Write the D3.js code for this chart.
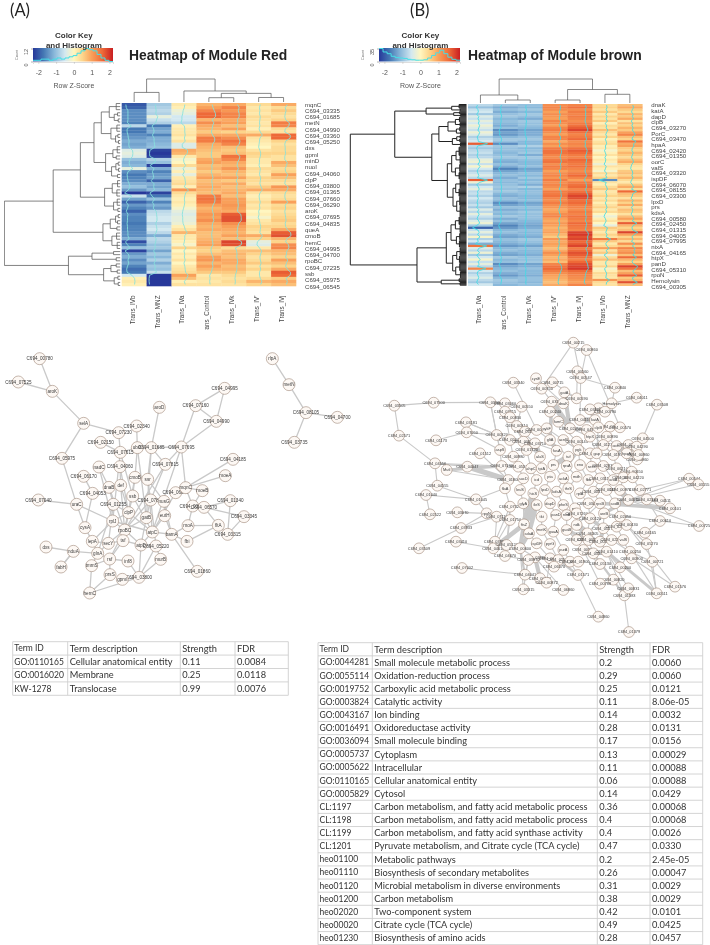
<!DOCTYPE html>
<html lang="en">
<head>
<meta charset="UTF-8">
<title>Module heatmaps</title>
<script src="https://d3js.org/d3.v7.min.js"></script>
<style>
body { margin: 0; background: #fff; }
svg { display: block; filter: blur(0.3px); }
text { font-family: "Liberation Sans", Arial, sans-serif; }
.tbl text, .panel { font-family: Lato, "Open Sans", sans-serif; }
</style>
</head>
<body>
<div id="chart"></div>
<script>
// ---- colour key
var zStops = [-2.3, -1.7, -1.1, -0.5, 0, 0.5, 1, 1.6, 2.2]
var zColors = ['#27389a', '#4578b4', '#8ab8da', '#d3e8f0', '#fff6c0', '#fdd48a', '#f9a05a', '#ee6a38', '#c81e22']
var zTicks = [-2, -1, 0, 1, 2]

// ---- module red
var colsA = ['Trans_IVb', 'Trans_MNZ', 'Trans_IVa', 'Trans_Control', 'Trans_IVk', "Trans_IV'", 'Trans_IVj']
var rowLabelsA = ['mqnC','C694_03335','C694_01685','metN','C694_04990','C694_03360','C694_05250','dxs','gpmI','minD','nuoI','C694_04060','clpP','C694_03800','C694_01365','C694_07660','C694_06290','aroK','C694_07695','C694_04835','queA','cmoB','hemC','C694_04995','C694_04700','rpoBC','C694_07235','ssb','C694_05975','C694_06545']
var heatA_IVb = [-2.0,-1.9,-1.5,-1.5,-1.5,-1.5,-1.6,-0.7,-1.7,-1.7,
  -1.5,-1.4,-1.2,-1.3,-1.2,-0.4,-0.3,-0.4,-1.0,-1.2,
  -1.1,-0.3,-1.5,-1.7,-1.6,-1.5,-1.2,-1.0,-1.4,-2.3,
  -0.6,-1.3,-1.9,-1.4,-1.6,-1.9,-1.5,-1.6,-1.6,-1.7,
  -1.6,-1.6,-1.5,-1.5,-1.2,-2.1,-1.6,-1.0,-2.2,-1.4,
  -1.2,-1.5,-1.3,-1.6,-1.8,-1.7,-0.5,0.1,0.2,0.1]
var heatA_MNZ = [-0.9,-0.8,-0.7,-0.8,-0.3,-0.6,-0.8,-1.7,-1.3,-1.2,
  -1.6,-1.2,-1.2,-1.1,-1.0,-2.2,-2.3,-2.2,-0.8,-1.0,
  -2.2,-1.2,-1.6,-1.4,-1.3,-1.9,-1.2,-1.3,-1.1,-2.2,
  -1.7,-1.0,-1.6,-1.2,-1.4,-0.7,-0.6,-0.5,-0.5,-0.8,
  -0.6,-0.5,-0.7,-1.2,-0.7,-0.8,-1.0,-0.9,-1.3,-0.9,
  -1.1,-0.8,-1.2,-0.9,-1.0,-0.6,-2.3,-2.4,-2.4,-2.3]
var heatA_IVa = [0.2,0.1,-0.2,-0.3,-0.5,-0.5,-0.7,0.1,0.2,0.2,
  0.3,0.1,0.3,-0.4,-0.4,0.9,0.8,0.2,-0.1,0.0,
  0.4,-0.2,0.1,-0.3,0.2,0.3,0.4,0.1,1.1,0.4,
  0.2,0.1,0.2,0.1,-0.1,-0.3,-0.4,-0.3,-0.3,-0.2,
  0.1,0.3,0.8,0.2,0.2,0.1,-0.1,0.5,0.0,0.2,
  0.1,0.3,0.0,0.2,0.3,0.4,1.0,0.7,0.1,0.3]
var heatA_Control = [0.8,1.0,1.3,1.6,1.6,0.8,1.2,0.9,0.8,0.6,
  0.9,1.4,1.4,0.9,0.8,0.7,0.6,0.6,0.9,1.0,
  0.7,0.8,0.6,0.8,1.0,0.7,0.8,0.9,0.8,0.7,
  1.4,1.5,1.4,1.0,0.8,0.9,1.1,1.0,1.2,0.9,
  0.8,0.9,0.7,0.7,0.8,0.9,1.0,0.6,0.5,0.7,
  1.0,1.1,0.8,1.0,0.8,0.6,0.2,0.3,0.2,0.3]
var heatA_IVk = [0.9,1.3,1.1,1.3,1.3,0.9,1.0,0.7,1.0,0.5,
  0.9,1.2,1.5,1.3,0.7,0.6,0.7,1.5,1.3,0.9,
  0.8,1.1,0.8,0.7,1.0,0.6,0.9,0.7,0.8,0.9,
  0.7,1.0,1.0,1.1,1.0,0.9,1.7,1.8,1.8,1.2,
  1.0,0.9,0.8,1.0,0.7,1.9,1.8,0.4,0.7,0.8,
  0.7,0.9,0.9,0.7,0.8,0.6,0.4,0.3,0.4,0.3]
var heatA_IVp = [0.4,0.2,0.3,0.2,0.4,0.3,0.2,0.3,0.1,0.4,
  0.9,0.3,0.2,0.1,0.0,0.3,0.5,0.4,0.2,0.2,
  0.1,0.4,0.3,0.2,0.5,0.4,0.3,0.6,0.9,0.3,
  0.1,0.2,0.4,0.2,0.3,0.0,0.1,-0.1,0.2,0.3,
  0.5,0.4,0.3,0.9,0.5,-0.3,-0.4,0.2,0.7,0.5,
  0.3,0.4,0.6,0.3,0.5,0.2,0.2,0.4,0.8,0.5]
var heatA_IVj = [0.9,0.4,0.6,0.4,0.3,0.5,1.4,1.3,0.4,0.3,
  1.6,1.6,0.5,0.3,0.4,0.4,0.5,0.3,0.3,0.9,
  0.7,0.4,0.5,1.0,0.7,0.4,0.3,1.1,0.9,0.4,
  0.3,0.4,1.0,0.4,0.5,0.3,0.4,0.5,0.6,0.4,
  0.5,0.9,1.7,1.8,0.8,0.5,1.2,1.3,0.8,0.7,
  0.5,1.0,0.7,0.5,0.9,1.7,1.6,0.6,0.9,0.7]
// dendrograms: [height, left, right], a fan of n leaves is [height, n]
var rowTreeA = [349,
  [202,
    [120,
      [79,
        [57,[33,[12,3],[18,[8,2],[6,2]]],[28,[10,3],[14,[7,2],[5,2]]]],
        [44,[22,[9,3],[12,2]],[26,[13,[6,2],[5,2]],[8,2]]]],
      [47,[24,[8,3],[10,3]],[20,[9,3],[7,2]]]],
    [52,[30,[14,[6,2],[8,2]],[10,2]],[25,[11,3],[9,3]]]],
  [156,[85,[20,2],[12,2]],[50,[28,[12,2],[9,2]],[18,[7,2],[6,2]]]]]
var colTreeA = [24,[10,0,1],[11.5,2,[9,[4.5,3,4],[4.7,5,6]]]]
var histA = [1,1,2,2,1,2,3,2,3,4,5,7,9,11,10,9,6,3,1,0,0]

// ---- module brown
var colsB = ['Trans_IVa', 'Trans_Control', 'Trans_IVk', "Trans_IV'", 'Trans_IVj', 'Trans_IVb', 'Trans_MNZ']
var rowLabelsB = ['dnaK','katA','dapD','clpB','C694_03270','PorC','C694_03470','hpaA','C694_02420','C694_01350','oorC','valS','C694_03320','ispDF','C694_06070','C694_08155','C694_03300','lpxD','prs','kdsA','C694_00580','C694_02450','C694_01315','C694_04005','C694_07995','nixA','C694_04165','htpX','panD','C694_05310','rpoN','Hemolysin','C694_00305']
var heatB_IVa = [-0.7,-1.0,-0.6,-0.5,-0.9,-0.4,-0.6,-0.3,-0.5,-0.2,
  -0.4,-0.6,-0.2,-0.4,-0.8,-0.6,-0.5,1.7,-0.7,-0.9,
  -0.7,-0.6,-0.8,-0.7,-0.3,-0.2,-0.6,-0.1,-0.5,-0.8,
  -0.6,-0.4,-0.7,1.7,-0.2,-0.9,-0.5,-0.3,-0.7,-0.6,
  -0.8,-0.5,-0.7,-0.8,-0.6,-0.9,-0.4,-0.7,-0.3,-0.6,
  -0.8,-0.4,-0.2,-0.9,-1.9,-0.6,-0.3,-0.7,-0.1,-0.8,
  -0.5,-1.2,1.5,-0.4,-0.7,-0.2,-0.9,-0.5,-0.1,-0.6,
  -0.3,-0.7,1.3,-0.5,-0.8,-0.6,-0.4,-0.7,-0.9,-0.5]
var heatB_Control = [-0.9,-1.2,-1.0,-1.2,-1.0,-0.9,-1.1,-1.0,-1.1,-1.2,
  -1.0,-1.5,-1.3,-1.4,-1.1,-0.9,-1.0,-1.5,-0.9,-1.0,
  -1.0,-1.1,-1.0,-0.9,-1.1,-1.2,-1.0,-1.2,-1.6,-1.3,
  -1.1,-1.0,-1.2,-1.0,-1.1,-1.0,-0.9,-1.0,-0.9,-1.1,
  -1.2,-1.0,-1.1,-1.5,-1.3,-1.0,-1.2,-1.0,-1.1,-0.9,
  -1.2,-1.0,-1.3,-1.6,-1.4,-1.1,-1.0,-1.2,-1.3,-1.0,
  -1.1,-1.2,-1.4,-1.1,-1.0,-1.2,-1.3,-0.9,-1.1,-1.0,
  -1.5,-1.3,-1.1,-1.0,-1.2,-1.4,-1.1,-0.9,-1.0,-1.1]
var heatB_IVk = [-1.0,-1.1,-0.9,-1.1,-0.9,-1.0,-1.2,-0.9,-1.0,-1.0,
  -1.1,-1.3,-1.2,-1.2,-1.0,-0.9,-1.1,-1.1,-0.8,-1.1,
  -1.0,-0.9,-1.2,-0.9,-1.0,-1.1,-1.1,-1.0,-1.3,-1.2,
  -1.0,-1.1,-0.9,-1.1,-1.0,-1.2,-0.8,-1.1,-1.0,-1.0,
  -1.1,-1.1,-1.0,-1.3,-1.2,-1.0,-1.1,-0.9,-1.0,-1.0,
  -1.0,-1.1,-1.2,-1.3,-1.2,-1.0,-1.1,-1.1,-1.2,-0.9,
  -1.0,-1.1,-1.3,-1.0,-1.1,-1.1,-1.2,-1.0,-1.0,-0.9,
  -1.3,-1.2,-1.0,-1.1,-1.1,-1.2,-1.0,-1.0,-1.1,-1.0]
var heatB_IVp = [1.2,1.3,1.2,1.0,1.2,1.1,1.0,1.3,1.2,1.0,
  1.3,1.4,1.2,1.0,1.3,1.3,0.9,1.2,1.0,1.4,
  1.5,1.5,1.3,1.2,1.4,1.5,1.2,1.4,1.3,1.0,
  1.2,1.3,1.1,1.4,1.2,1.3,1.2,1.0,1.4,1.4,
  1.5,1.3,1.2,1.4,1.2,1.1,0.9,1.0,1.2,1.3,
  1.0,0.9,1.1,1.0,0.8,0.9,1.0,0.8,0.6,1.1,
  0.9,1.0,0.9,0.7,0.9,1.2,1.0,0.8,0.9,0.7,
  1.3,1.5,1.6,1.4,1.2,1.0,0.9,0.8,0.7,0.9]
var heatB_IVj = [1.3,1.5,1.2,1.4,1.3,1.4,1.3,1.2,1.4,1.5,
  1.7,1.9,1.5,1.3,1.4,1.6,1.2,1.3,1.2,1.5,
  1.7,1.6,1.4,1.3,1.6,1.5,1.4,1.5,1.3,1.2,
  1.4,1.6,1.3,1.0,1.4,1.5,1.6,1.3,1.5,1.7,
  1.9,1.8,1.5,1.6,1.4,1.3,1.2,1.4,1.3,1.5,
  1.4,1.3,1.6,1.5,1.4,1.3,1.9,2.0,1.8,1.9,
  1.6,1.7,1.9,1.4,1.6,1.8,1.7,1.5,1.3,1.6,
  1.8,1.9,2.0,1.6,1.4,1.3,1.2,1.1,1.0,1.3]
var heatB_IVb = [0.4,0.5,0.3,0.6,0.2,0.5,0.3,0.6,0.1,0.4,
  0.3,0.7,0.4,0.2,0.5,0.1,0.3,0.4,0.1,0.2,
  -0.1,0.1,0.3,0.0,0.2,0.1,-0.2,0.3,0.1,-0.1,
  0.4,0.2,0.5,-1.5,0.3,0.1,0.4,0.6,0.2,0.3,
  0.5,0.2,0.4,0.1,0.3,0.5,0.2,0.4,0.0,-0.2,
  0.1,0.3,0.0,-0.3,0.6,0.4,0.2,0.5,0.3,1.4,
  0.6,0.2,0.4,1.0,0.3,0.6,-0.2,0.4,0.7,0.2,
  0.2,0.5,-0.1,0.1,0.4,0.3,0.2,1.1,0.4,0.3]
var heatB_MNZ = [0.7,0.9,0.6,0.4,0.8,0.6,0.9,0.3,0.7,0.5,
  0.8,0.6,1.0,1.3,0.7,0.5,1.5,0.9,1.0,0.6,
  0.5,0.8,0.6,0.4,0.7,0.9,0.5,0.3,0.2,0.6,
  0.7,0.5,0.8,0.4,0.2,0.6,0.9,0.4,1.6,0.7,
  0.6,0.3,0.8,0.5,0.9,0.4,0.7,0.6,0.3,0.7,
  1.0,0.6,1.7,0.8,0.5,0.7,1.9,1.0,0.5,0.8,
  0.4,1.2,0.6,1.3,1.0,1.2,0.7,1.6,0.8,0.5,
  1.0,1.9,1.5,0.7,1.0,1.7,0.6,0.8,1.8,0.7]
var rowTreeB = [345,
  [213,
    [120,[44,[22,5],[19,3]],[38,[21,3],[18,3]]],
    [103,
      [82,[55,[33,[21,6],[19,5]],[30,[20,5],[18,4]]],[42,[29,[19,4],[20,4]],[18,5]]],
      [57,[44,[31,[22,10],[19,9]],[33,[20,9],[22,8]]],[40,[32,[19,10],[22,9]],[29,[20,10],[19,12]]]]]],
  [147,
    [60,[46,[33,[22,9],[19,9]],[30,[20,8],[21,8]]],[41,[29,[19,9],[21,8]],[32,[20,9],[18,8]]]],
    [75,[22,4],[19,4]]]]
var colTreeB = [24,[8,0,[3,1,2]],[13.5,[3,3,4],[8.7,5,6]]]
var histB = [30,22,18,12,9,8,7,5,4,3,3,4,8,14,20,26,18,10,5,3,2]

// ---- networks, node positions are the layout units
var netA_names = ['C694_00780','C694_07525','aroK','C694_04995','C694_07160','aroD','C694_04990','selA','C694_02340','C694_07230',
  'C694_02150','ubiX','C694_01685','C694_07695','C694_07615','C694_05975','C694_04185','nadC','C694_04060','C694_07815',
  'C694_06170','cmoB','ssr','moeA','dnaB','def','C694_04053','ssb','C694_07810','nusG',
  'C694_06047','mqnC','moeB','uraC','C694_01255','C694_03360','C694_06570','C694_01340','C694_03345','clpP',
  'gatB','eutH','rplJ','cysA','rpoBC','atpC','bamA','rnoA','fltA','C694_03315',
  'fbi','lepA','secY','tsf','atpD','C694_05220','nduA','glnA','rsf','inf8',
  'murB','tmmS','C694_03800','C694_01860','prsS','gpmI','hemC','dxs','fabH','C694_07040',
  'rlpA','metN','C694_08105','C694_04700','C694_03735']
var netA_x = [119,55,157,674,587,478,649,251,410,356, 302,412,454,544,361,186,699,297,360,496,
  251,405,443,676,327,362,278,398,452,492, 527,557,607,230,340,578,612,691,732,386,
  439,494,338,255,374,457,515,564,655,683, 561,277,325,369,423,468,220,293,329,384,
  482,275,417,592,330,367,269,138,183,115, 817,867,918,1012,883]
var netA_y = [56,126,154,145,197,202,244,250,258,278, 307,323,323,321,337,355,358,381,380,373,
  409,412,418,407,442,436,460,468,480,484, 458,443,452,493,493,498,502,482,530,518,
  533,527,543,563,570,576,583,557,556,583, 604,604,610,602,615,618,634,640,657,663,
  658,677,712,694,704,718,759,621,681,480, 56,134,218,232,307]
var netA_links = [[0,2],[1,2],[2,7],[7,9],[7,15],[15,33],[3,4],[3,6],[4,6],[4,13],[6,13],[5,12],[13,11],[13,31],[13,19],
  [8,11],[9,14],[10,14],[11,14],[12,19],[11,21],[12,22],[14,27],[19,28],[17,24],[18,25],[20,26],[21,27],[22,28],[22,29],
  [24,34],[25,39],[26,43],[27,39],[28,40],[29,41],[30,31],[31,32],[31,35],[16,31],[23,31],[32,35],[35,36],[36,37],[36,38],
  [37,49],[38,49],[48,49],[48,36],[47,48],[50,48],[47,35],[33,42],[33,43],[69,33],[39,42],[39,44],[40,44],[41,46],[42,44],
  [43,51],[42,51],[44,53],[44,54],[45,46],[45,54],[46,50],[46,47],[46,63],[51,52],[51,57],[52,53],[52,57],[53,54],[53,58],
  [54,55],[55,60],[55,62],[56,57],[56,67],[56,68],[57,58],[57,61],[58,59],[58,61],[59,62],[58,64],[61,66],[64,66],[65,62],
  [62,66],[60,62],[54,62],[44,58],[44,52],[28,44],[27,45],[34,39],[39,45],[30,45],[29,46],[28,55],[40,54],[41,45],[42,45],
  [39,53],[24,44],[25,44],[21,44],[22,45],[19,44],[13,45],[12,40],[11,40],[14,42],[18,39],[17,42],[34,52],[34,57],[56,68],
  [70,71],[71,72],[72,73],[72,74]]

var netB_names = ['C694_00215','C694_00860','C694_00560','cysE','C694_00715','C694_03340','C694_00750','gatA','C694_00547','C694_00840',
  'C694_04011','C694_03508','C694_03505','C694_07500','C694_03160','C694_02571','C694_01173','C694_03181','C694_07050','C694_01512',
  'C694_04556','Mutl','C694_04047','C694_04555','C694_01040','C694_02522','C694_03070','C694_01045','C694_03933','C694_03509',
  'C694_03410','C694_07002','C694_04041','C694_03315','C694_06860','C694_01571','C694_04860','C694_01379','C694_01383','C694_00831',
  'C694_00820','C694_00788','C694_00511','C694_01576','C694_00721','C694_00725','C694_00544','C694_03155','C694_00101','C694_04511',
  'C694_00610','C694_04500','C694_04960',
  'C694_03060','C694_00550','C694_03150','dnaK','C694_00590','Hemolysin','C694_03175',
  'C694_03215','C694_00830','C694_00240','C694_03880','C694_00790','C694_04110','katA','C694_03390','C694_00570',
  'C694_00310','C694_06100','C694_00670','C694_00320','pykF','fumC','C694_02450','C694_04730','clpB','C694_00890',
  'C694_05040','C694_00860','C694_03710','gltA','acnB','C694_00145','htpX','C694_01230','oorC','C694_02190','C694_04290',
  'aspS','C694_00980','C694_01720','alaS','fusA','tuf','pgk','C694_02660','gap','C694_01950','hpaA','C694_00960',
  'C694_07130','C694_05310','ahpC','tpiA','prs','rpsA','eno','serS','C694_02830','C694_06210','C694_00650',
  'C694_01800','sucD','icd','pta','ackA','mdh','fba','C694_03110','aroA','C694_00680','C694_04220',
  'flaA','leuS','hisS','lpxD','kdsA','thrS','rplA','C694_00310','C694_01420','C694_00970','C694_02771',
  'C694_07320','glyA','ileS','dapD','pheS','ppa','C694_03470','rpsB','sodB','C694_04070','C694_02773',
  'rpoN','C694_07110','C694_01750','ftsZ','tkt','panD','nixA','C694_07260','C694_00120','ureB','C694_02450',
  'sdaA','metK','guaA','guaB','ndk','C694_06305','C694_05570','C694_02950','C694_00430','C694_04165',
  'C694_03990','C694_04610','C694_05120','C694_00600','ispDF','pyrG','purA','C694_02160','C694_00300','C694_00310','C694_02270','valS','C694_05270',
  'C694_04670','C694_03380','C694_06120','C694_02510','C694_00970','C694_00380','C694_03300','C694_01410','C694_00250','C694_00900',
  'C694_06070','C694_01900','C694_05130','C694_00200','C694_00831','C694_00872','C694_03970']
var netB_x = [670,710,682,558,607,490,575,643,692,795, 860,921,133,251,421,147,258,348,350,390,
  255,290,352,262,228,240,322,378,333,207, 318,336,525,520,640,684,745,837,823,835,
  790,750,920,975,907,1047,1017,1045,960,930, 930,878,862,
  465,515,605,640,680,785,745,
  465,480,600,720,765,690,735,780,810,
  500,525,560,440,590,625,660,710,745,770,
  480,520,555,600,640,680,720,760,800,835,860,
  450,490,530,570,620,655,685,720,740,790,830,865,
  455,505,543,575,610,650,690,725,760,800,845,
  475,520,560,600,640,680,715,750,790,820,848,
  465,510,550,585,620,655,690,730,770,810,870,
  480,520,560,600,640,675,715,750,795,835,890,
  410,440,480,522,575,618,650,680,720,762,810,
  537,575,610,650,680,712,760,800,830,885,
  435,430,470,510,560,600,640,680,715,750,785,820,890,
  465,555,600,625,660,700,730,770,840,845,
  612,685,750,810,570,590,535]
var netB_y = [8,30,94,115,127,128,146,157,114,143, 173,194,197,188,187,287,301,247,277,340,
  370,390,380,437,465,523,517,478,564,625, 605,684,704,748,750,705,830,876,766,745,
  719,731,760,740,665,558,416,433,505,482, 543,295,358,
  190,200,185,190,175,190,205,
  215,232,215,208,215,240,240,260,262,
  258,275,270,285,265,245,265,270,262,290,
  300,305,310,300,300,305,290,315,318,315,320,
  330,350,330,350,332,350,330,340,340,345,340,345,
  378,380,385,385,375,378,375,380,378,385,395,
  420,415,420,410,415,410,420,415,420,412,412,
  445,450,460,450,455,445,460,455,450,450,450,
  500,490,495,490,495,505,490,490,490,480,478,
  520,530,540,553,530,525,525,520,535,520,530,
  580,570,575,570,555,580,565,560,555,578,
  605,625,615,625,610,612,630,600,600,605,600,600,612,
  648,652,655,660,665,630,640,635,635,655,
  680,665,672,682,715,728,660]
var netB_links = [[0,6],[0,8],[1,68],[1,8],[2,57],[3,56],[4,57],[5,71],[6,55],[7,57],[8,65],[9,58],[9,8],[10,58],[11,51],[51,89],[52,100],[12,13],[13,14],[12,15],[15,20],
  [14,53],[14,72],[14,90],[16,18],[17,72],[17,79],[18,72],[18,90],[19,113],[20,22],[20,102],[21,102],[21,113],[22,102],[23,20],[23,27],[24,27],[24,25],[27,146],[27,124],
  [26,146],[28,146],[29,28],[30,168],[28,147],[31,32],[32,196],[33,196],[33,170],[34,181],[35,36],[35,184],[37,38],[38,187],[39,187],[40,186],[41,185],[42,166],[42,188],[43,189],[43,156],[44,42],[44,188],
  [45,155],[45,144],[46,134],[46,144],[47,144],[48,144],[49,144],[50,166],[50,145],
  [53,60],[54,69],[60,79],[61,80],[69,81],[70,92],[71,82],[72,90],[73,83],[74,84],[75,85],[76,86],[77,98],[78,87],[79,91],[80,93],[81,94],[82,95],[83,96],[84,97],[85,98],[86,99],[87,100],[88,101],[89,101],
  [90,102],[91,103],[92,104],[93,105],[94,106],[95,107],[96,108],[97,109],[98,110],[99,111],[100,112],[102,113],[103,114],[104,115],[105,116],[106,117],[107,118],[108,119],[109,120],[110,121],[111,122],[112,123],
  [113,124],[114,125],[115,126],[116,127],[117,128],[118,129],[119,130],[120,131],[121,132],[122,133],[123,134],[124,135],[125,136],[126,137],[127,138],[128,139],[129,140],[130,141],[131,142],[132,143],[133,144],[134,145],
  [135,148],[136,149],[137,150],[138,151],[139,152],[140,153],[141,154],[142,155],[143,156],[146,148],[147,167],[148,169],[149,157],[150,158],[151,159],[152,160],[153,161],[154,162],[155,163],[156,164],
  [157,171],[158,172],[159,173],[160,174],[161,175],[162,176],[163,177],[164,178],[165,179],[169,180],[170,181],[171,182],[172,183],[173,184],[174,185],[175,186],[176,187],[177,188],[178,189],
  [180,196],[181,194],[182,195],[183,190],[184,191],[185,192],[186,192],[187,193],[188,193],[167,135],[168,148],[169,135],[170,149],[157,136],[157,126],[163,153],[161,142],[162,143]]
var netB_bundles = [[55,75,9],[7,75,6],[55,82,5],[66,65,8],[66,63,6],[66,77,5],[81,93,8],[82,94,6],[95,106,8],[96,107,5],[89,100,6],[99,88,5],
  [113,22,8],[102,21,4],[126,149,10],[149,137,8],[149,170,6],[137,157,6],[161,162,10],[162,175,7],[160,175,5],[163,176,6],[133,144,9],[144,155,5],[143,144,7],
  [168,149,7],[170,157,6],[194,181,6],[187,42,4],[186,38,3],[142,48,5],[154,163,5],[32,170,3],[35,183,3]]

// ---- tables
var tableColsA = ['Term ID', 'Term description', 'Strength', 'FDR']
var tblA_id = ['GO:0110165','GO:0016020','KW-1278']
var tblA_desc = ['Cellular anatomical entity','Membrane','Translocase']
var tblA_str = ['0.11','0.25','0.99']
var tblA_fdr = ['0.0084','0.0118','0.0076']
var tblB_id = ['GO:0044281','GO:0055114','GO:0019752','GO:0003824','GO:0043167','GO:0016491','GO:0036094','GO:0005737','GO:0005622','GO:0110165','GO:0005829','CL:1197','CL:1198','CL:1199','CL:1201','heo01100','heo01110','heo01120','heo01200','heo02020','heo00020','heo01230']
var tblB_desc = ['Small molecule metabolic process','Oxidation-reduction process','Carboxylic acid metabolic process','Catalytic activity','Ion binding','Oxidoreductase activity','Small molecule binding','Cytoplasm','Intracellular','Cellular anatomical entity','Cytosol','Carbon metabolism, and fatty acid metabolic process','Carbon metabolism, and fatty acid metabolic process','Carbon metabolism, and fatty acid synthase activity','Pyruvate metabolism, and Citrate cycle (TCA cycle)','Metabolic pathways','Biosynthesis of secondary metabolites','Microbial metabolism in diverse environments','Carbon metabolism','Two-component system','Citrate cycle (TCA cycle)','Biosynthesis of amino acids']
var tblB_str = ['0.2','0.29','0.25','0.11','0.14','0.28','0.17','0.13','0.11','0.06','0.14','0.36','0.4','0.4','0.47','0.2','0.26','0.31','0.38','0.42','0.49','0.28']
var tblB_fdr = ['0.0060','0.0060','0.0121','8.06e-05','0.0032','0.0131','0.0156','0.00029','0.00088','0.00088','0.0429','0.00068','0.00068','0.0026','0.0330','2.45e-05','0.00047','0.0029','0.0029','0.0101','0.0425','0.0457']

var width = 710, height = 945
var svg = d3.select('#chart').append('svg').attr('width', width).attr('height', height)
var defs = svg.append('defs')

var zColor = d3.scaleLinear().domain(zStops).range(zColors).clamp(true)

// panel letters
svg.append('text').attr('class', 'panel').attr('x', 10).attr('y', 16).attr('font-size', 16.5).attr('fill', '#222').text('(A)')
svg.append('text').attr('class', 'panel').attr('x', 410).attr('y', 16).attr('font-size', 16.5).attr('fill', '#222').text('(B)')

// recursive layout of a [height, a, b] tree, leaves are numbered as they come
function drawTree(g, tree, pos, hScale, horizontal) {
  var next = 0
  function seg(h0, p0, h1, p1) {
    var l = g.append('line')
    if (horizontal) l.attr('x1', hScale(h0)).attr('y1', pos(p0)).attr('x2', hScale(h1)).attr('y2', pos(p1))
    else l.attr('x1', pos(p0)).attr('y1', hScale(h0)).attr('x2', pos(p1)).attr('y2', hScale(h1))
  }
  function walk(node) {
    if (typeof node === 'number') return {h: 0, p: node}
    if (node.length == 2) {
      // fan of leaves
      var first = next
      for (var i = 0; i < node[1]; i++) { seg(node[0], next, 0, next); next++ }
      seg(node[0], first, node[0], next - 1)
      return {h: node[0], p: (first + next - 1) / 2}
    }
    var a = walk(node[1]), b = walk(node[2])
    seg(node[0], a.p, node[0], b.p)
    seg(node[0], a.p, a.h, a.p)
    seg(node[0], b.p, b.h, b.p)
    return {h: node[0], p: (a.p + b.p) / 2}
  }
  walk(tree)
}

function countLeaves(t) {
  if (typeof t === 'number') return 1
  if (t.length == 2) return t[1]
  return countLeaves(t[1]) + countLeaves(t[2])
}

function drawHeatmap(c) {
  var g = svg.append('g')
  var x = d3.scaleBand().domain(d3.range(c.cols.length)).range([c.x0, c.x1])
  var y = d3.scaleBand().domain(d3.range(c.values[0].length)).range([c.y0, c.y1])

  c.values.forEach(function(col, j) {
    g.append('g').selectAll('rect').data(col).enter().append('rect')
      .attr('x', x(j)).attr('y', function(d, i) { return y(i) })
      .attr('width', x.bandwidth() + 0.3).attr('height', y.bandwidth() + 0.3)
      .attr('fill', function(d) { return zColor(d) })
  })

  // trace lines
  var trace = d3.scaleLinear().domain([-3, 3]).range([-x.bandwidth() / 2, x.bandwidth() / 2])
  c.values.forEach(function(col, j) {
    var line = d3.line()
      .x(function(d) { return x(j) + x.bandwidth() / 2 + trace(d) })
      .y(function(d, i) { return y(i) + y.bandwidth() / 2 })
    g.append('path').attr('d', line(col)).attr('fill', 'none')
      .attr('stroke', c.traceColor).attr('stroke-width', 1).attr('opacity', 0.85)
  })

  // row labels
  var rowLab = d3.scalePoint().domain(c.rows).range(c.labelRange)
  g.append('g').selectAll('text').data(c.rows).enter().append('text')
    .attr('x', c.x1 + 9).attr('y', function(d) { return rowLab(d) + 2 })
    .attr('font-size', 6.1).attr('fill', '#444').text(function(d) { return d })

  // column labels, the picture cuts them off at the bottom
  var clipId = 'clip' + c.x0
  defs.append('clipPath').attr('id', clipId).append('rect').attr('x', c.x0 - 5).attr('y', 290).attr('width', c.x1 - c.x0 + 10).attr('height', 40)
  g.append('g').attr('clip-path', 'url(#' + clipId + ')').selectAll('text').data(c.cols).enter().append('text')
    .attr('transform', function(d, i) { return 'translate(' + (x(i) + x.bandwidth() / 2 + 0.5) + ',295.5) rotate(-90)' })
    .attr('text-anchor', 'end').attr('font-size', 6.3).attr('fill', '#444').text(function(d) { return d })

  // dendrograms
  var n = countLeaves(c.rowTree)
  var rowPos = d3.scaleLinear().domain([0, n - 1]).range([c.y0 + 0.5, c.y1 - 0.5])
  var rowH = d3.scaleLinear().domain([0, c.rowTree[0]]).range([c.x0 - 1.5, c.rootX])
  var rt = g.append('g').attr('stroke', c.treeColor).attr('stroke-width', c.treeWidth)
  drawTree(rt, c.rowTree, rowPos, rowH, true)
  var colH = d3.scaleLinear().domain([0, 24]).range([c.y0 - 1, 79])
  var colPos = d3.scaleLinear().domain([0, c.cols.length - 1]).range([x(0) + x.bandwidth() / 2, x(c.cols.length - 1) + x.bandwidth() / 2])
  var ct = g.append('g').attr('stroke', '#555').attr('stroke-width', 0.7)
  drawTree(ct, c.colTree, colPos, colH, false)

  // title
  g.append('text').attr('x', c.titleX).attr('y', 60).attr('font-size', 13.9).attr('font-weight', 'bold').attr('fill', '#222').text(c.title)

  // colour key
  var keyX = d3.scaleLinear().domain([-2.3, 2.2]).range(c.keyRange)
  var keyY = d3.scaleLinear().domain([0, d3.max(c.hist)]).range([61.5, 48.5])
  var gradId = 'grad' + c.x0
  var grad = defs.append('linearGradient').attr('id', gradId)
  zStops.forEach(function(s, i) {
    grad.append('stop').attr('offset', (s + 2.3) / 4.5).attr('stop-color', zColors[i])
  })
  g.append('rect').attr('x', c.keyRange[0]).attr('y', 48).attr('width', c.keyRange[1] - c.keyRange[0]).attr('height', 13.5).attr('fill', 'url(#' + gradId + ')')

  var bins = d3.scaleLinear().domain([0, c.hist.length - 1]).range([-2.3, 2.2])
  var histLine = d3.line().curve(d3.curveStepAfter)
    .x(function(d, i) { return keyX(bins(i)) }).y(function(d) { return keyY(d) })
  g.append('path').attr('d', histLine(c.hist)).attr('fill', 'none').attr('stroke', '#46dfe6').attr('stroke-width', 1)

  var zAxis = d3.axisBottom(keyX).tickValues(zTicks).tickSize(2).tickFormat(function(d) { return d < 0 ? '-' + (-d) : d })
  var za = g.append('g').attr('transform', 'translate(0,62)').call(zAxis)
  za.select('.domain').attr('stroke', '#aaa').attr('stroke-width', 0.4)
  za.selectAll('line').attr('stroke', '#aaa').attr('stroke-width', 0.4)
  za.selectAll('text').attr('font-size', 7).attr('fill', '#555').attr('dy', '1.2em')

  var cntAxis = d3.axisLeft(keyY).tickValues([0, c.histMax * 1]).tickSize(2).tickFormat(function(d) { return d == 0 ? '0' : c.histLabel })
  var ca = g.append('g').attr('transform', 'translate(' + c.keyRange[0] + ',0)').call(cntAxis)
  ca.select('.domain').remove()
  ca.selectAll('line').attr('stroke', '#666').attr('stroke-width', 0.5)
  ca.selectAll('text').attr('font-size', 5.5).attr('fill', '#555').attr('text-anchor', 'middle').attr('dy', 0)
    .attr('transform', function() { return 'rotate(-90 ' + d3.select(this).attr('x') + ' 0)' })
    .attr('x', -8)

  var keyMid = keyX(0)
  g.append('text').attr('x', c.keyRange[0] - 15).attr('y', 55).attr('font-size', 3.8).attr('fill', '#666').attr('text-anchor', 'middle')
    .attr('transform', 'rotate(-90 ' + (c.keyRange[0] - 15) + ' 55)').text('Count')
  g.append('text').attr('x', keyMid).attr('y', 38).attr('font-size', 8).attr('font-weight', 'bold').attr('fill', '#333').attr('text-anchor', 'middle').text('Color Key')
  g.append('text').attr('x', keyMid).attr('y', 48).attr('font-size', 8).attr('font-weight', 'bold').attr('fill', '#333').attr('text-anchor', 'middle').text('and Histogram')
  g.append('text').attr('x', keyMid).attr('y', 87.5).attr('font-size', 7).attr('fill', '#555').attr('text-anchor', 'middle').text('Row Z-Score')
}

drawHeatmap({
  cols: colsA, rows: rowLabelsA,
  values: [heatA_IVb, heatA_MNZ, heatA_IVa, heatA_Control, heatA_IVk, heatA_IVp, heatA_IVj],
  x0: 121.7, x1: 296, y0: 103, y1: 286, labelRange: [104.5, 286.5], traceColor: '#86e2dc',
  rowTree: rowTreeA, colTree: colTreeA, rootX: 4.4, treeWidth: 0.7, treeColor: '#4d4d4d',
  title: 'Heatmap of Module Red', titleX: 129, keyRange: [33, 113], hist: histA, histMax: 11, histLabel: '12'
})
drawHeatmap({
  cols: colsB, rows: rowLabelsB,
  values: [heatB_IVa, heatB_Control, heatB_IVk, heatB_IVp, heatB_IVj, heatB_IVb, heatB_MNZ],
  x0: 468, x1: 642.3, y0: 104, y1: 285.7, labelRange: [105.3, 286.5], traceColor: '#3fdde6',
  rowTree: rowTreeB, colTree: colTreeB, rootX: 350.3, treeWidth: 1, treeColor: '#222',
  title: 'Heatmap of Module brown', titleX: 468, keyRange: [379, 460], hist: histB, histMax: 30, histLabel: '35'
})

function drawNetwork(n) {
  var g = svg.append('g')
  var nodes = n.names.map(function(name, i) { return {name: name, x: n.sx(n.xs[i]), y: n.sy(n.ys[i])} })
  var weight = d3.scaleLinear().domain([1, 10]).range([n.edge, 6.5])
  g.append('g').selectAll('line').data(n.links.concat(n.bundles || [])).enter().append('line')
    .attr('x1', function(d) { return nodes[d[0]].x }).attr('y1', function(d) { return nodes[d[0]].y })
    .attr('x2', function(d) { return nodes[d[1]].x }).attr('y2', function(d) { return nodes[d[1]].y })
    .attr('stroke', '#c9c9c9').attr('stroke-width', function(d) { return weight(d[2] || 1) })
  var gn = g.append('g').selectAll('g').data(nodes).enter().append('g')
    .attr('transform', function(d) { return 'translate(' + d.x + ',' + d.y + ')' })
  gn.append('circle').attr('r', n.r).attr('fill', '#fdf8f4').attr('stroke', '#a08878').attr('stroke-width', 0.6)
  gn.append('text').attr('text-anchor', 'middle').attr('dy', '0.33em').attr('font-size', n.font).attr('fill', '#3a3a3a').text(function(d) { return d.name })
}

drawNetwork({
  names: netA_names, xs: netA_x, ys: netA_y, links: netA_links, r: 6, font: 4.6, edge: 1.3,
  sx: d3.scaleLinear().domain([0, 1050]).range([0, 350]),
  sy: d3.scaleLinear().domain([0, 870]).range([340, 630])
})
drawNetwork({
  names: netB_names, xs: netB_x, ys: netB_y, links: netB_links, bundles: netB_bundles, r: 5.4, font: 3.9, edge: 1.1,
  sx: d3.scaleLinear().domain([0, 1080]).range([350, 710]),
  sy: d3.scaleLinear().domain([0, 900]).range([340, 640])
})

function drawTable(t) {
  var g = svg.append('g').attr('class', 'tbl')
  var rows = [tableColsA].concat(t.id.map(function(d, i) { return [d, t.desc[i], t.str[i], t.fdr[i]] }))
  var y = d3.scaleBand().domain(d3.range(rows.length)).range(t.yRange)
  g.append('g').selectAll('line.h').data(d3.range(rows.length + 1)).enter().append('line')
    .attr('x1', t.xs[0]).attr('x2', t.xs[4])
    .attr('y1', function(d) { return t.yRange[0] + d * y.bandwidth() }).attr('y2', function(d) { return t.yRange[0] + d * y.bandwidth() })
    .attr('stroke', '#cfcfcf').attr('stroke-width', 0.9)
  g.append('g').selectAll('line.v').data(t.xs).enter().append('line')
    .attr('x1', function(d) { return d }).attr('x2', function(d) { return d })
    .attr('y1', t.yRange[0]).attr('y2', t.yRange[1])
    .attr('stroke', '#cfcfcf').attr('stroke-width', 0.9)
  rows.forEach(function(r, i) {
    g.append('g').selectAll('text').data(r).enter().append('text')
      .attr('x', function(d, j) { return t.xs[j] + (j == 0 ? 1.5 : 2) })
      .attr('y', y(i) + y.bandwidth() / 2)
      .attr('dy', '0.35em').attr('font-size', function(d, j) { return j == 0 ? 8.5 : t.font }).attr('fill', '#333')
      .text(function(d) { return d })
  })
}

drawTable({id: tblA_id, desc: tblA_desc, str: tblA_str, fdr: tblA_fdr, xs: [12.7, 67.7, 180.3, 235, 288.3], yRange: [641.7, 695.3], font: 9.25})
drawTable({id: tblB_id, desc: tblB_desc, str: tblB_str, fdr: tblB_fdr, xs: [318, 372.3, 597.3, 650, 702.7], yRange: [642.7, 944.7], font: 9.25})
</script>
</body>
</html>
